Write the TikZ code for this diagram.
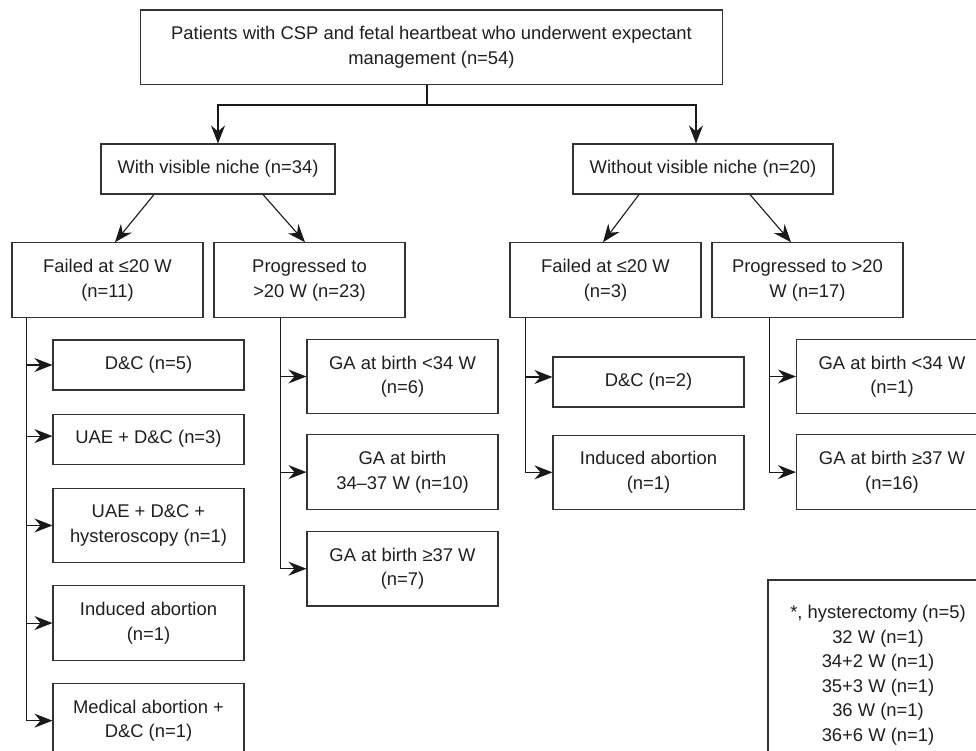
\documentclass[tikz,border=0pt]{standalone}
\usepackage{fontspec}
\setmainfont{Liberation Sans}
\usepackage{tikz}
\usetikzlibrary{arrows.meta, positioning}

\begin{document}
\begin{tikzpicture}[x=1pt, y=-1pt,
  box/.style={rectangle, draw=black!80, line width=1.1pt, text=black!88,
    align=center, minimum width=191pt, minimum height=50pt, inner sep=3pt,
    font=\fontsize{18.4}{24.5}\selectfont},
  tall/.style={minimum height=74.5pt},
  flow/.style={-{Stealth[length=18pt, width=14pt, inset=6pt]}, black!90, line width=1.1pt},
  link/.style={black!90, line width=1.1pt}
]
\useasboundingbox (0,0) rectangle (976,750);
\clip (0,0) rectangle (976,750);
\fill[white] (0,0) rectangle (976,750);

\node[box, tall, minimum width=581.6pt] (top) at (431.5,47.2) {Patients with CSP and fetal heartbeat who underwent expectant\\management (n=54)};
\node[box, minimum width=234pt] (vis) at (218,169) {With visible niche (n=34)};
\node[box, minimum width=260pt] (novis) at (703,169) {Without visible niche (n=20)};

\node[box, tall] (fail1) at (107.5,280) {Failed at ≤20 W\\(n=11)};
\node[box, tall] (prog1) at (309.5,280) {Progressed to\\>20 W (n=23)};
\node[box, tall] (fail2) at (605.5,280) {Failed at ≤20 W\\(n=3)};
\node[box, tall] (prog2) at (807.5,280) {Progressed to >20\\W (n=17)};

\node[box] (dc1) at (148.5,365) {D\&C (n=5)};
\node[box, below=23pt of dc1] (uae) {UAE + D\&C (n=3)};
\node[box, tall, below=23pt of uae] (uaeh) {UAE + D\&C +\\hysteroscopy (n=1)};
\node[box, tall, below=22pt of uaeh] (ind1) {Induced abortion\\(n=1)};
\node[box, tall, below=22pt of ind1] (med) {Medical abortion +\\D\&C (n=1)};

\node[box, tall] (ga1) at (402.5,376.5) {GA at birth <34 W\\(n=6)};
\node[box, tall, below=20pt of ga1] (ga2) {GA at birth\\34–37 W (n=10)};
\node[box, tall, below=21pt of ga2] (ga3) {GA at birth ≥37 W\\(n=7)};

\node[box] (dc2) at (648.5,382) {D\&C (n=2)};
\node[box, tall, below=27pt of dc2] (ind2) {Induced abortion\\(n=1)};

\node[box, tall] (ga4) at (892,376.5) {GA at birth <34 W\\(n=1)};
\node[box, tall, below=20pt of ga4] (ga5) {GA at birth ≥37 W\\(n=16)};

\node[box, minimum width=220pt, minimum height=190pt] (note) at (878,675) {*, hysterectomy (n=5)\\32 W (n=1)\\34+2 W (n=1)\\35+3 W (n=1)\\36 W (n=1)\\36+6 W (n=1)};

\coordinate (split) at (427,105);
\draw[link] (top.south -| split) -- (split);
\draw[flow] (split) -| (vis.north);
\draw[flow] (split) -| ([xshift=-7pt]novis.north);

\draw[flow] ([xshift=-64pt]vis.south) -- ([xshift=7.5pt]fail1.north);
\draw[flow] ([xshift=45pt]vis.south) -- ([xshift=-4.5pt]prog1.north);
\draw[flow] ([xshift=-64pt]novis.south) -- ([xshift=-2.5pt]fail2.north);
\draw[flow] ([xshift=47pt]novis.south) -- ([xshift=-16.5pt]prog2.north);

\draw[flow] ([xshift=15pt]fail1.south west) |- (dc1);
\draw[flow] ([xshift=15pt]fail1.south west) |- ([yshift=3pt]uae.west);
\draw[flow] ([xshift=15pt]fail1.south west) |- (uaeh);
\draw[flow] ([xshift=15pt]fail1.south west) |- (ind1);
\draw[flow] ([xshift=15pt]fail1.south west) |- (med);

\draw[flow] ([xshift=67pt]prog1.south west) |- (ga1);
\draw[flow] ([xshift=67pt]prog1.south west) |- (ga2);
\draw[flow] ([xshift=67pt]prog1.south west) |- (ga3);

\draw[flow] ([xshift=16pt]fail2.south west) |- ([yshift=5pt]dc2.west);
\draw[flow] ([xshift=16pt]fail2.south west) |- (ind2);

\draw[flow] ([xshift=58pt]prog2.south west) |- (ga4);
\draw[flow] ([xshift=58pt]prog2.south west) |- (ga5);
\end{tikzpicture}
\end{document}
